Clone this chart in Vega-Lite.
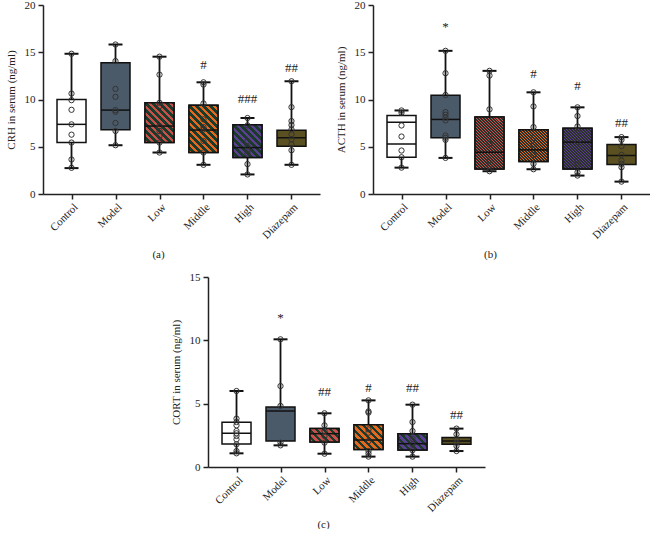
{
"$schema": "https://vega.github.io/schema/vega-lite/v6.json",
"padding": {"left": 5, "top": -1, "right": 0, "bottom": 0},
"config": {
  "view": {"stroke": null},
  "font": "Liberation Serif",
  "axis": {"domainColor": "#222", "domainWidth": 1.5, "tickColor": "#222", "tickWidth": 1.5, "tickSize": 5, "labelFont": "Liberation Serif", "labelFontSize": 11, "labelColor": "#222", "titleFont": "Liberation Serif", "titleFontSize": 11, "titleFontWeight": "normal", "titleColor": "#222", "grid": false}
},
"datasets": {
  "box_a": [
    {"g": "Control", "lo": 2.74, "q1": 5.44, "med": 7.37, "q3": 10.0, "hi": 14.84},
    {"g": "Model", "lo": 5.16, "q1": 6.81, "med": 8.88, "q3": 13.9, "hi": 15.82},
    {"g": "Low", "lo": 4.39, "q1": 5.44, "med": 7.19, "q3": 9.65, "hi": 14.53},
    {"g": "Middle", "lo": 3.09, "q1": 4.39, "med": 6.77, "q3": 9.4, "hi": 11.82},
    {"g": "High", "lo": 2.07, "q1": 3.86, "med": 4.91, "q3": 7.33, "hi": 8.04},
    {"g": "Diazepam", "lo": 3.09, "q1": 5.05, "med": 5.96, "q3": 6.74, "hi": 11.93}
  ],
  "pts_a": [
    {"g": "Control", "v": 14.84}, {"g": "Control", "v": 10.63}, {"g": "Control", "v": 9.93}, {"g": "Control", "v": 8.91}, {"g": "Control", "v": 7.37}, {"g": "Control", "v": 6.28}, {"g": "Control", "v": 5.44}, {"g": "Control", "v": 3.65}, {"g": "Control", "v": 2.77},
    {"g": "Model", "v": 15.82}, {"g": "Model", "v": 14.07}, {"g": "Model", "v": 11.12}, {"g": "Model", "v": 10.28}, {"g": "Model", "v": 8.88}, {"g": "Model", "v": 8.7}, {"g": "Model", "v": 7.51}, {"g": "Model", "v": 6.67}, {"g": "Model", "v": 5.16},
    {"g": "Low", "v": 14.53}, {"g": "Low", "v": 12.63}, {"g": "Low", "v": 9.65}, {"g": "Low", "v": 9.3}, {"g": "Low", "v": 7.19}, {"g": "Low", "v": 6.67}, {"g": "Low", "v": 6.14}, {"g": "Low", "v": 5.44}, {"g": "Low", "v": 4.39},
    {"g": "Middle", "v": 11.82}, {"g": "Middle", "v": 11.58}, {"g": "Middle", "v": 9.58}, {"g": "Middle", "v": 7.9}, {"g": "Middle", "v": 7.09}, {"g": "Middle", "v": 6.84}, {"g": "Middle", "v": 5.61}, {"g": "Middle", "v": 4.39}, {"g": "Middle", "v": 3.09},
    {"g": "High", "v": 8.04}, {"g": "High", "v": 7.26}, {"g": "High", "v": 5.61}, {"g": "High", "v": 5.02}, {"g": "High", "v": 4.56}, {"g": "High", "v": 4.28}, {"g": "High", "v": 3.16}, {"g": "High", "v": 2.07},
    {"g": "Diazepam", "v": 11.93}, {"g": "Diazepam", "v": 9.19}, {"g": "Diazepam", "v": 7.72}, {"g": "Diazepam", "v": 7.3}, {"g": "Diazepam", "v": 6.84}, {"g": "Diazepam", "v": 6.32}, {"g": "Diazepam", "v": 5.79}, {"g": "Diazepam", "v": 5.26}, {"g": "Diazepam", "v": 4.63}, {"g": "Diazepam", "v": 3.09}
  ],
  "ann_a": [
    {"g": "Middle", "v": 13.7, "t": "#"},
    {"g": "High", "v": 10.07, "t": "###"},
    {"g": "Diazepam", "v": 13.3, "t": "##"}
  ],
  "box_b": [
    {"g": "Control", "lo": 2.79, "q1": 3.89, "med": 5.3, "q3": 8.31, "hi": 8.84},
    {"g": "Model", "lo": 3.82, "q1": 5.95, "med": 7.89, "q3": 10.44, "hi": 15.15},
    {"g": "Low", "lo": 2.41, "q1": 2.65, "med": 4.42, "q3": 8.14, "hi": 13.03},
    {"g": "Middle", "lo": 2.62, "q1": 3.43, "med": 4.67, "q3": 6.8, "hi": 10.76},
    {"g": "High", "lo": 1.95, "q1": 2.65, "med": 5.49, "q3": 6.97, "hi": 9.17},
    {"g": "Diazepam", "lo": 1.31, "q1": 3.12, "med": 4.07, "q3": 5.24, "hi": 6.02}
  ],
  "ext_b": [{"g": "Control", "v": 7.6}],
  "pts_b": [
    {"g": "Control", "v": 8.84}, {"g": "Control", "v": 8.6}, {"g": "Control", "v": 7.25}, {"g": "Control", "v": 6.08}, {"g": "Control", "v": 4.6}, {"g": "Control", "v": 3.89}, {"g": "Control", "v": 2.79},
    {"g": "Model", "v": 15.15}, {"g": "Model", "v": 12.78}, {"g": "Model", "v": 10.48}, {"g": "Model", "v": 8.67}, {"g": "Model", "v": 8.39}, {"g": "Model", "v": 8.07}, {"g": "Model", "v": 7.79}, {"g": "Model", "v": 6.19}, {"g": "Model", "v": 5.95}, {"g": "Model", "v": 5.73}, {"g": "Model", "v": 3.82},
    {"g": "Low", "v": 13.03}, {"g": "Low", "v": 12.53}, {"g": "Low", "v": 8.96}, {"g": "Low", "v": 6.16}, {"g": "Low", "v": 5.31}, {"g": "Low", "v": 3.54}, {"g": "Low", "v": 2.94}, {"g": "Low", "v": 2.41},
    {"g": "Middle", "v": 10.76}, {"g": "Middle", "v": 9.27}, {"g": "Middle", "v": 7.08}, {"g": "Middle", "v": 5.91}, {"g": "Middle", "v": 5.2}, {"g": "Middle", "v": 4.14}, {"g": "Middle", "v": 3.19}, {"g": "Middle", "v": 2.62},
    {"g": "High", "v": 9.17}, {"g": "High", "v": 8.25}, {"g": "High", "v": 7.15}, {"g": "High", "v": 6.48}, {"g": "High", "v": 5.49}, {"g": "High", "v": 3.54}, {"g": "High", "v": 3.19}, {"g": "High", "v": 2.3}, {"g": "High", "v": 1.95},
    {"g": "Diazepam", "v": 6.02}, {"g": "Diazepam", "v": 5.73}, {"g": "Diazepam", "v": 5.06}, {"g": "Diazepam", "v": 4.14}, {"g": "Diazepam", "v": 3.54}, {"g": "Diazepam", "v": 3.19}, {"g": "Diazepam", "v": 2.83}, {"g": "Diazepam", "v": 1.31}
  ],
  "ann_b": [
    {"g": "Model", "v": 17.7, "t": "*"},
    {"g": "Middle", "v": 12.67, "t": "#"},
    {"g": "High", "v": 11.47, "t": "#"},
    {"g": "Diazepam", "v": 7.54, "t": "##"}
  ],
  "box_c": [
    {"g": "Control", "lo": 1.08, "q1": 1.82, "med": 2.66, "q3": 3.53, "hi": 6.0},
    {"g": "Model", "lo": 1.71, "q1": 2.05, "med": 4.42, "q3": 4.74, "hi": 10.08},
    {"g": "Low", "lo": 1.05, "q1": 1.97, "med": 2.63, "q3": 3.03, "hi": 4.24},
    {"g": "Middle", "lo": 0.82, "q1": 1.39, "med": 2.13, "q3": 3.34, "hi": 5.26},
    {"g": "High", "lo": 0.82, "q1": 1.34, "med": 1.84, "q3": 2.63, "hi": 4.92},
    {"g": "Diazepam", "lo": 1.26, "q1": 1.79, "med": 2.05, "q3": 2.32, "hi": 3.03}
  ],
  "pts_c": [
    {"g": "Control", "v": 6.0}, {"g": "Control", "v": 3.82}, {"g": "Control", "v": 3.55}, {"g": "Control", "v": 3.29}, {"g": "Control", "v": 2.84}, {"g": "Control", "v": 2.66}, {"g": "Control", "v": 2.45}, {"g": "Control", "v": 2.18}, {"g": "Control", "v": 1.79}, {"g": "Control", "v": 1.26}, {"g": "Control", "v": 1.08},
    {"g": "Model", "v": 10.08}, {"g": "Model", "v": 6.39}, {"g": "Model", "v": 4.82}, {"g": "Model", "v": 1.92}, {"g": "Model", "v": 1.71},
    {"g": "Low", "v": 4.24}, {"g": "Low", "v": 3.29}, {"g": "Low", "v": 2.84}, {"g": "Low", "v": 2.45}, {"g": "Low", "v": 1.92}, {"g": "Low", "v": 1.05},
    {"g": "Middle", "v": 5.26}, {"g": "Middle", "v": 4.39}, {"g": "Middle", "v": 4.29}, {"g": "Middle", "v": 2.97}, {"g": "Middle", "v": 2.71}, {"g": "Middle", "v": 2.05}, {"g": "Middle", "v": 1.26}, {"g": "Middle", "v": 1.05}, {"g": "Middle", "v": 0.82},
    {"g": "High", "v": 4.92}, {"g": "High", "v": 3.55}, {"g": "High", "v": 2.84}, {"g": "High", "v": 2.24}, {"g": "High", "v": 1.79}, {"g": "High", "v": 1.32}, {"g": "High", "v": 0.82},
    {"g": "Diazepam", "v": 3.03}, {"g": "Diazepam", "v": 2.58}, {"g": "Diazepam", "v": 2.18}, {"g": "Diazepam", "v": 1.92}, {"g": "Diazepam", "v": 1.66}, {"g": "Diazepam", "v": 1.26}
  ],
  "ann_c": [
    {"g": "Model", "v": 11.79, "t": "*"},
    {"g": "Low", "v": 5.92, "t": "##"},
    {"g": "Middle", "v": 6.26, "t": "#"},
    {"g": "High", "v": 6.26, "t": "##"},
    {"g": "Diazepam", "v": 4.13, "t": "##"}
  ]
},
"center": true,
"spacing": 12,
"vconcat": [
{
"spacing": 15,
"hconcat": [
{
"width": 277, "height": 189,
"layer": [
  {"data": {"name": "box_a"}, "mark": {"type": "rule", "stroke": "#111", "strokeWidth": 1.8},
   "encoding": {"x": {"field": "g", "type": "nominal", "scale": {"type": "point", "padding": 0.648, "domain": ["Control", "Model", "Low", "Middle", "High", "Diazepam"]}, "axis": {"title": "(a)", "labelAngle": -45, "titleX": 115, "titleY": 60, "titleAlign": "center", "titleBaseline": "middle"}},
     "y": {"field": "lo", "type": "quantitative", "scale": {"domain": [0, 20], "nice": false}, "axis": {"title": "CRH in serum (ng/ml)", "values": [0, 5, 10, 15, 20], "titlePadding": 8, "labelPadding": 3}}, "y2": {"field": "hi"}}},
  {"data": {"name": "box_a"}, "mark": {"type": "bar", "width": 29, "stroke": "#111", "strokeWidth": 1.5},
   "encoding": {"x": {"field": "g", "type": "nominal"}, "y": {"field": "q1", "type": "quantitative"}, "y2": {"field": "q3"},
     "fill": {"field": "g", "type": "nominal", "scale": {"domain": ["Control", "Model", "Low", "Middle", "High", "Diazepam"], "range": ["#ffffff", "#4b5a69", "#c8504a", "#e2691d", "#5a3f92", "#5a5022"]}, "legend": null}}},
  {"data": {"name": "box_a"}, "transform": [{"filter": "datum.g === 'Low'"}],
   "mark": {"type": "bar", "width": 29, "stroke": "#111", "strokeWidth": 1.5, "fill": {"gradient": "linear", "x1": 0, "y1": 1, "x2": 0.998, "y2": -0.3765, "stops": [{"offset":0,"color":"#c8504a"},{"offset":0.0417,"color":"#c8504a"},{"offset":0.0417,"color":"#1c3a2a"},{"offset":0.0833,"color":"#1c3a2a"},{"offset":0.0833,"color":"#c8504a"},{"offset":0.125,"color":"#c8504a"},{"offset":0.125,"color":"#1c3a2a"},{"offset":0.1667,"color":"#1c3a2a"},{"offset":0.1667,"color":"#c8504a"},{"offset":0.2083,"color":"#c8504a"},{"offset":0.2083,"color":"#1c3a2a"},{"offset":0.25,"color":"#1c3a2a"},{"offset":0.25,"color":"#c8504a"},{"offset":0.2917,"color":"#c8504a"},{"offset":0.2917,"color":"#1c3a2a"},{"offset":0.3333,"color":"#1c3a2a"},{"offset":0.3333,"color":"#c8504a"},{"offset":0.375,"color":"#c8504a"},{"offset":0.375,"color":"#1c3a2a"},{"offset":0.4167,"color":"#1c3a2a"},{"offset":0.4167,"color":"#c8504a"},{"offset":0.4583,"color":"#c8504a"},{"offset":0.4583,"color":"#1c3a2a"},{"offset":0.5,"color":"#1c3a2a"},{"offset":0.5,"color":"#c8504a"},{"offset":0.5417,"color":"#c8504a"},{"offset":0.5417,"color":"#1c3a2a"},{"offset":0.5833,"color":"#1c3a2a"},{"offset":0.5833,"color":"#c8504a"},{"offset":0.625,"color":"#c8504a"},{"offset":0.625,"color":"#1c3a2a"},{"offset":0.6667,"color":"#1c3a2a"},{"offset":0.6667,"color":"#c8504a"},{"offset":0.7083,"color":"#c8504a"},{"offset":0.7083,"color":"#1c3a2a"},{"offset":0.75,"color":"#1c3a2a"},{"offset":0.75,"color":"#c8504a"},{"offset":0.7917,"color":"#c8504a"},{"offset":0.7917,"color":"#1c3a2a"},{"offset":0.8333,"color":"#1c3a2a"},{"offset":0.8333,"color":"#c8504a"},{"offset":0.875,"color":"#c8504a"},{"offset":0.875,"color":"#1c3a2a"},{"offset":0.9167,"color":"#1c3a2a"},{"offset":0.9167,"color":"#c8504a"},{"offset":0.9583,"color":"#c8504a"},{"offset":0.9583,"color":"#1c3a2a"},{"offset":1,"color":"#1c3a2a"}]}},
   "encoding": {"x": {"field": "g", "type": "nominal"}, "y": {"field": "q1", "type": "quantitative"}, "y2": {"field": "q3"}}},
  {"data": {"name": "box_a"}, "transform": [{"filter": "datum.g === 'Middle'"}],
   "mark": {"type": "bar", "width": 29, "stroke": "#111", "strokeWidth": 1.5, "fill": {"gradient": "linear", "x1": 0, "y1": 1, "x2": 0.784, "y2": -0.287, "stops": [{"offset":0,"color":"#e2691d"},{"offset":0.0417,"color":"#e2691d"},{"offset":0.0417,"color":"#1c3a2a"},{"offset":0.0833,"color":"#1c3a2a"},{"offset":0.0833,"color":"#e2691d"},{"offset":0.125,"color":"#e2691d"},{"offset":0.125,"color":"#1c3a2a"},{"offset":0.1667,"color":"#1c3a2a"},{"offset":0.1667,"color":"#e2691d"},{"offset":0.2083,"color":"#e2691d"},{"offset":0.2083,"color":"#1c3a2a"},{"offset":0.25,"color":"#1c3a2a"},{"offset":0.25,"color":"#e2691d"},{"offset":0.2917,"color":"#e2691d"},{"offset":0.2917,"color":"#1c3a2a"},{"offset":0.3333,"color":"#1c3a2a"},{"offset":0.3333,"color":"#e2691d"},{"offset":0.375,"color":"#e2691d"},{"offset":0.375,"color":"#1c3a2a"},{"offset":0.4167,"color":"#1c3a2a"},{"offset":0.4167,"color":"#e2691d"},{"offset":0.4583,"color":"#e2691d"},{"offset":0.4583,"color":"#1c3a2a"},{"offset":0.5,"color":"#1c3a2a"},{"offset":0.5,"color":"#e2691d"},{"offset":0.5417,"color":"#e2691d"},{"offset":0.5417,"color":"#1c3a2a"},{"offset":0.5833,"color":"#1c3a2a"},{"offset":0.5833,"color":"#e2691d"},{"offset":0.625,"color":"#e2691d"},{"offset":0.625,"color":"#1c3a2a"},{"offset":0.6667,"color":"#1c3a2a"},{"offset":0.6667,"color":"#e2691d"},{"offset":0.7083,"color":"#e2691d"},{"offset":0.7083,"color":"#1c3a2a"},{"offset":0.75,"color":"#1c3a2a"},{"offset":0.75,"color":"#e2691d"},{"offset":0.7917,"color":"#e2691d"},{"offset":0.7917,"color":"#1c3a2a"},{"offset":0.8333,"color":"#1c3a2a"},{"offset":0.8333,"color":"#e2691d"},{"offset":0.875,"color":"#e2691d"},{"offset":0.875,"color":"#1c3a2a"},{"offset":0.9167,"color":"#1c3a2a"},{"offset":0.9167,"color":"#e2691d"},{"offset":0.9583,"color":"#e2691d"},{"offset":0.9583,"color":"#1c3a2a"},{"offset":1,"color":"#1c3a2a"}]}},
   "encoding": {"x": {"field": "g", "type": "nominal"}, "y": {"field": "q1", "type": "quantitative"}, "y2": {"field": "q3"}}},
  {"data": {"name": "box_a"}, "transform": [{"filter": "datum.g === 'High'"}],
   "mark": {"type": "bar", "width": 29, "stroke": "#111", "strokeWidth": 1.5, "fill": {"gradient": "linear", "x1": 0, "y1": 1, "x2": 1.262, "y2": -0.436, "stops": [{"offset":0,"color":"#5a3f92"},{"offset":0.0417,"color":"#5a3f92"},{"offset":0.0417,"color":"#1c3a2a"},{"offset":0.0833,"color":"#1c3a2a"},{"offset":0.0833,"color":"#5a3f92"},{"offset":0.125,"color":"#5a3f92"},{"offset":0.125,"color":"#1c3a2a"},{"offset":0.1667,"color":"#1c3a2a"},{"offset":0.1667,"color":"#5a3f92"},{"offset":0.2083,"color":"#5a3f92"},{"offset":0.2083,"color":"#1c3a2a"},{"offset":0.25,"color":"#1c3a2a"},{"offset":0.25,"color":"#5a3f92"},{"offset":0.2917,"color":"#5a3f92"},{"offset":0.2917,"color":"#1c3a2a"},{"offset":0.3333,"color":"#1c3a2a"},{"offset":0.3333,"color":"#5a3f92"},{"offset":0.375,"color":"#5a3f92"},{"offset":0.375,"color":"#1c3a2a"},{"offset":0.4167,"color":"#1c3a2a"},{"offset":0.4167,"color":"#5a3f92"},{"offset":0.4583,"color":"#5a3f92"},{"offset":0.4583,"color":"#1c3a2a"},{"offset":0.5,"color":"#1c3a2a"},{"offset":0.5,"color":"#5a3f92"},{"offset":0.5417,"color":"#5a3f92"},{"offset":0.5417,"color":"#1c3a2a"},{"offset":0.5833,"color":"#1c3a2a"},{"offset":0.5833,"color":"#5a3f92"},{"offset":0.625,"color":"#5a3f92"},{"offset":0.625,"color":"#1c3a2a"},{"offset":0.6667,"color":"#1c3a2a"},{"offset":0.6667,"color":"#5a3f92"},{"offset":0.7083,"color":"#5a3f92"},{"offset":0.7083,"color":"#1c3a2a"},{"offset":0.75,"color":"#1c3a2a"},{"offset":0.75,"color":"#5a3f92"},{"offset":0.7917,"color":"#5a3f92"},{"offset":0.7917,"color":"#1c3a2a"},{"offset":0.8333,"color":"#1c3a2a"},{"offset":0.8333,"color":"#5a3f92"},{"offset":0.875,"color":"#5a3f92"},{"offset":0.875,"color":"#1c3a2a"},{"offset":0.9167,"color":"#1c3a2a"},{"offset":0.9167,"color":"#5a3f92"},{"offset":0.9583,"color":"#5a3f92"},{"offset":0.9583,"color":"#1c3a2a"},{"offset":1,"color":"#1c3a2a"}]}},
   "encoding": {"x": {"field": "g", "type": "nominal"}, "y": {"field": "q1", "type": "quantitative"}, "y2": {"field": "q3"}}},
  {"data": {"name": "box_a"}, "mark": {"type": "tick", "size": 29, "thickness": 1.5, "color": "#111", "opacity": 1},
   "encoding": {"x": {"field": "g", "type": "nominal"}, "y": {"field": "med", "type": "quantitative"}}},
  {"data": {"name": "box_a"}, "mark": {"type": "tick", "size": 14, "thickness": 2, "color": "#111", "opacity": 1},
   "encoding": {"x": {"field": "g", "type": "nominal"}, "y": {"field": "lo", "type": "quantitative"}}},
  {"data": {"name": "box_a"}, "mark": {"type": "tick", "size": 14, "thickness": 2, "color": "#111", "opacity": 1},
   "encoding": {"x": {"field": "g", "type": "nominal"}, "y": {"field": "hi", "type": "quantitative"}}},
  {"data": {"name": "pts_a"}, "mark": {"type": "point", "filled": false, "stroke": "#333", "strokeWidth": 1, "size": 28, "opacity": 1},
   "encoding": {"x": {"field": "g", "type": "nominal"}, "y": {"field": "v", "type": "quantitative"}}},
  {"data": {"name": "ann_a"}, "mark": {"type": "text", "font": "Liberation Serif", "fontSize": 13, "fill": "#222", "baseline": "middle"},
   "encoding": {"x": {"field": "g", "type": "nominal"}, "y": {"field": "v", "type": "quantitative"}, "text": {"field": "t"}}}
]
},
{
"width": 277, "height": 189,
"layer": [
  {"data": {"name": "box_b"}, "mark": {"type": "rule", "stroke": "#111", "strokeWidth": 1.8},
   "encoding": {"x": {"field": "g", "type": "nominal", "scale": {"type": "point", "padding": 0.648, "domain": ["Control", "Model", "Low", "Middle", "High", "Diazepam"]}, "axis": {"title": "(b)", "labelAngle": -45, "titleX": 117, "titleY": 60, "titleAlign": "center", "titleBaseline": "middle"}},
     "y": {"field": "lo", "type": "quantitative", "scale": {"domain": [0, 20], "nice": false}, "axis": {"title": "ACTH in serum (ng/ml)", "values": [0, 5, 10, 15, 20], "titlePadding": 8, "labelPadding": 3}}, "y2": {"field": "hi"}}},
  {"data": {"name": "box_b"}, "mark": {"type": "bar", "width": 29, "stroke": "#111", "strokeWidth": 1.5},
   "encoding": {"x": {"field": "g", "type": "nominal"}, "y": {"field": "q1", "type": "quantitative"}, "y2": {"field": "q3"},
     "fill": {"field": "g", "type": "nominal", "scale": {"domain": ["Control", "Model", "Low", "Middle", "High", "Diazepam"], "range": ["#ffffff", "#4b5a69", "#a9433e", "#c8611f", "#44386e", "#5a5022"]}, "legend": null}}},
  {"data": {"name": "box_b"}, "transform": [{"filter": "datum.g === 'Low'"}],
   "mark": {"type": "bar", "width": 29, "stroke": "#111", "strokeWidth": 1.5, "fill": {"gradient": "linear", "x1": 0, "y1": 1, "x2": 0.689, "y2": -0.233, "stops": [{"offset":0,"color":"#c8504a"},{"offset":0.0179,"color":"#c8504a"},{"offset":0.0179,"color":"#2a2f2a"},{"offset":0.0357,"color":"#2a2f2a"},{"offset":0.0357,"color":"#c8504a"},{"offset":0.0536,"color":"#c8504a"},{"offset":0.0536,"color":"#2a2f2a"},{"offset":0.0714,"color":"#2a2f2a"},{"offset":0.0714,"color":"#c8504a"},{"offset":0.0893,"color":"#c8504a"},{"offset":0.0893,"color":"#2a2f2a"},{"offset":0.1071,"color":"#2a2f2a"},{"offset":0.1071,"color":"#c8504a"},{"offset":0.125,"color":"#c8504a"},{"offset":0.125,"color":"#2a2f2a"},{"offset":0.1429,"color":"#2a2f2a"},{"offset":0.1429,"color":"#c8504a"},{"offset":0.1607,"color":"#c8504a"},{"offset":0.1607,"color":"#2a2f2a"},{"offset":0.1786,"color":"#2a2f2a"},{"offset":0.1786,"color":"#c8504a"},{"offset":0.1964,"color":"#c8504a"},{"offset":0.1964,"color":"#2a2f2a"},{"offset":0.2143,"color":"#2a2f2a"},{"offset":0.2143,"color":"#c8504a"},{"offset":0.2321,"color":"#c8504a"},{"offset":0.2321,"color":"#2a2f2a"},{"offset":0.25,"color":"#2a2f2a"},{"offset":0.25,"color":"#c8504a"},{"offset":0.2679,"color":"#c8504a"},{"offset":0.2679,"color":"#2a2f2a"},{"offset":0.2857,"color":"#2a2f2a"},{"offset":0.2857,"color":"#c8504a"},{"offset":0.3036,"color":"#c8504a"},{"offset":0.3036,"color":"#2a2f2a"},{"offset":0.3214,"color":"#2a2f2a"},{"offset":0.3214,"color":"#c8504a"},{"offset":0.3393,"color":"#c8504a"},{"offset":0.3393,"color":"#2a2f2a"},{"offset":0.3571,"color":"#2a2f2a"},{"offset":0.3571,"color":"#c8504a"},{"offset":0.375,"color":"#c8504a"},{"offset":0.375,"color":"#2a2f2a"},{"offset":0.3929,"color":"#2a2f2a"},{"offset":0.3929,"color":"#c8504a"},{"offset":0.4107,"color":"#c8504a"},{"offset":0.4107,"color":"#2a2f2a"},{"offset":0.4286,"color":"#2a2f2a"},{"offset":0.4286,"color":"#c8504a"},{"offset":0.4464,"color":"#c8504a"},{"offset":0.4464,"color":"#2a2f2a"},{"offset":0.4643,"color":"#2a2f2a"},{"offset":0.4643,"color":"#c8504a"},{"offset":0.4821,"color":"#c8504a"},{"offset":0.4821,"color":"#2a2f2a"},{"offset":0.5,"color":"#2a2f2a"},{"offset":0.5,"color":"#c8504a"},{"offset":0.5179,"color":"#c8504a"},{"offset":0.5179,"color":"#2a2f2a"},{"offset":0.5357,"color":"#2a2f2a"},{"offset":0.5357,"color":"#c8504a"},{"offset":0.5536,"color":"#c8504a"},{"offset":0.5536,"color":"#2a2f2a"},{"offset":0.5714,"color":"#2a2f2a"},{"offset":0.5714,"color":"#c8504a"},{"offset":0.5893,"color":"#c8504a"},{"offset":0.5893,"color":"#2a2f2a"},{"offset":0.6071,"color":"#2a2f2a"},{"offset":0.6071,"color":"#c8504a"},{"offset":0.625,"color":"#c8504a"},{"offset":0.625,"color":"#2a2f2a"},{"offset":0.6429,"color":"#2a2f2a"},{"offset":0.6429,"color":"#c8504a"},{"offset":0.6607,"color":"#c8504a"},{"offset":0.6607,"color":"#2a2f2a"},{"offset":0.6786,"color":"#2a2f2a"},{"offset":0.6786,"color":"#c8504a"},{"offset":0.6964,"color":"#c8504a"},{"offset":0.6964,"color":"#2a2f2a"},{"offset":0.7143,"color":"#2a2f2a"},{"offset":0.7143,"color":"#c8504a"},{"offset":0.7321,"color":"#c8504a"},{"offset":0.7321,"color":"#2a2f2a"},{"offset":0.75,"color":"#2a2f2a"},{"offset":0.75,"color":"#c8504a"},{"offset":0.7679,"color":"#c8504a"},{"offset":0.7679,"color":"#2a2f2a"},{"offset":0.7857,"color":"#2a2f2a"},{"offset":0.7857,"color":"#c8504a"},{"offset":0.8036,"color":"#c8504a"},{"offset":0.8036,"color":"#2a2f2a"},{"offset":0.8214,"color":"#2a2f2a"},{"offset":0.8214,"color":"#c8504a"},{"offset":0.8393,"color":"#c8504a"},{"offset":0.8393,"color":"#2a2f2a"},{"offset":0.8571,"color":"#2a2f2a"},{"offset":0.8571,"color":"#c8504a"},{"offset":0.875,"color":"#c8504a"},{"offset":0.875,"color":"#2a2f2a"},{"offset":0.8929,"color":"#2a2f2a"},{"offset":0.8929,"color":"#c8504a"},{"offset":0.9107,"color":"#c8504a"},{"offset":0.9107,"color":"#2a2f2a"},{"offset":0.9286,"color":"#2a2f2a"},{"offset":0.9286,"color":"#c8504a"},{"offset":0.9464,"color":"#c8504a"},{"offset":0.9464,"color":"#2a2f2a"},{"offset":0.9643,"color":"#2a2f2a"},{"offset":0.9643,"color":"#c8504a"},{"offset":0.9821,"color":"#c8504a"},{"offset":0.9821,"color":"#2a2f2a"},{"offset":1,"color":"#2a2f2a"}]}},
   "encoding": {"x": {"field": "g", "type": "nominal"}, "y": {"field": "q1", "type": "quantitative"}, "y2": {"field": "q3"}}},
  {"data": {"name": "box_b"}, "transform": [{"filter": "datum.g === 'Middle'"}],
   "mark": {"type": "bar", "width": 29, "stroke": "#111", "strokeWidth": 1.5, "fill": {"gradient": "linear", "x1": 0, "y1": 1, "x2": 1.315, "y2": -0.442, "stops": [{"offset":0,"color":"#e2691d"},{"offset":0.0179,"color":"#e2691d"},{"offset":0.0179,"color":"#2a2f2a"},{"offset":0.0357,"color":"#2a2f2a"},{"offset":0.0357,"color":"#e2691d"},{"offset":0.0536,"color":"#e2691d"},{"offset":0.0536,"color":"#2a2f2a"},{"offset":0.0714,"color":"#2a2f2a"},{"offset":0.0714,"color":"#e2691d"},{"offset":0.0893,"color":"#e2691d"},{"offset":0.0893,"color":"#2a2f2a"},{"offset":0.1071,"color":"#2a2f2a"},{"offset":0.1071,"color":"#e2691d"},{"offset":0.125,"color":"#e2691d"},{"offset":0.125,"color":"#2a2f2a"},{"offset":0.1429,"color":"#2a2f2a"},{"offset":0.1429,"color":"#e2691d"},{"offset":0.1607,"color":"#e2691d"},{"offset":0.1607,"color":"#2a2f2a"},{"offset":0.1786,"color":"#2a2f2a"},{"offset":0.1786,"color":"#e2691d"},{"offset":0.1964,"color":"#e2691d"},{"offset":0.1964,"color":"#2a2f2a"},{"offset":0.2143,"color":"#2a2f2a"},{"offset":0.2143,"color":"#e2691d"},{"offset":0.2321,"color":"#e2691d"},{"offset":0.2321,"color":"#2a2f2a"},{"offset":0.25,"color":"#2a2f2a"},{"offset":0.25,"color":"#e2691d"},{"offset":0.2679,"color":"#e2691d"},{"offset":0.2679,"color":"#2a2f2a"},{"offset":0.2857,"color":"#2a2f2a"},{"offset":0.2857,"color":"#e2691d"},{"offset":0.3036,"color":"#e2691d"},{"offset":0.3036,"color":"#2a2f2a"},{"offset":0.3214,"color":"#2a2f2a"},{"offset":0.3214,"color":"#e2691d"},{"offset":0.3393,"color":"#e2691d"},{"offset":0.3393,"color":"#2a2f2a"},{"offset":0.3571,"color":"#2a2f2a"},{"offset":0.3571,"color":"#e2691d"},{"offset":0.375,"color":"#e2691d"},{"offset":0.375,"color":"#2a2f2a"},{"offset":0.3929,"color":"#2a2f2a"},{"offset":0.3929,"color":"#e2691d"},{"offset":0.4107,"color":"#e2691d"},{"offset":0.4107,"color":"#2a2f2a"},{"offset":0.4286,"color":"#2a2f2a"},{"offset":0.4286,"color":"#e2691d"},{"offset":0.4464,"color":"#e2691d"},{"offset":0.4464,"color":"#2a2f2a"},{"offset":0.4643,"color":"#2a2f2a"},{"offset":0.4643,"color":"#e2691d"},{"offset":0.4821,"color":"#e2691d"},{"offset":0.4821,"color":"#2a2f2a"},{"offset":0.5,"color":"#2a2f2a"},{"offset":0.5,"color":"#e2691d"},{"offset":0.5179,"color":"#e2691d"},{"offset":0.5179,"color":"#2a2f2a"},{"offset":0.5357,"color":"#2a2f2a"},{"offset":0.5357,"color":"#e2691d"},{"offset":0.5536,"color":"#e2691d"},{"offset":0.5536,"color":"#2a2f2a"},{"offset":0.5714,"color":"#2a2f2a"},{"offset":0.5714,"color":"#e2691d"},{"offset":0.5893,"color":"#e2691d"},{"offset":0.5893,"color":"#2a2f2a"},{"offset":0.6071,"color":"#2a2f2a"},{"offset":0.6071,"color":"#e2691d"},{"offset":0.625,"color":"#e2691d"},{"offset":0.625,"color":"#2a2f2a"},{"offset":0.6429,"color":"#2a2f2a"},{"offset":0.6429,"color":"#e2691d"},{"offset":0.6607,"color":"#e2691d"},{"offset":0.6607,"color":"#2a2f2a"},{"offset":0.6786,"color":"#2a2f2a"},{"offset":0.6786,"color":"#e2691d"},{"offset":0.6964,"color":"#e2691d"},{"offset":0.6964,"color":"#2a2f2a"},{"offset":0.7143,"color":"#2a2f2a"},{"offset":0.7143,"color":"#e2691d"},{"offset":0.7321,"color":"#e2691d"},{"offset":0.7321,"color":"#2a2f2a"},{"offset":0.75,"color":"#2a2f2a"},{"offset":0.75,"color":"#e2691d"},{"offset":0.7679,"color":"#e2691d"},{"offset":0.7679,"color":"#2a2f2a"},{"offset":0.7857,"color":"#2a2f2a"},{"offset":0.7857,"color":"#e2691d"},{"offset":0.8036,"color":"#e2691d"},{"offset":0.8036,"color":"#2a2f2a"},{"offset":0.8214,"color":"#2a2f2a"},{"offset":0.8214,"color":"#e2691d"},{"offset":0.8393,"color":"#e2691d"},{"offset":0.8393,"color":"#2a2f2a"},{"offset":0.8571,"color":"#2a2f2a"},{"offset":0.8571,"color":"#e2691d"},{"offset":0.875,"color":"#e2691d"},{"offset":0.875,"color":"#2a2f2a"},{"offset":0.8929,"color":"#2a2f2a"},{"offset":0.8929,"color":"#e2691d"},{"offset":0.9107,"color":"#e2691d"},{"offset":0.9107,"color":"#2a2f2a"},{"offset":0.9286,"color":"#2a2f2a"},{"offset":0.9286,"color":"#e2691d"},{"offset":0.9464,"color":"#e2691d"},{"offset":0.9464,"color":"#2a2f2a"},{"offset":0.9643,"color":"#2a2f2a"},{"offset":0.9643,"color":"#e2691d"},{"offset":0.9821,"color":"#e2691d"},{"offset":0.9821,"color":"#2a2f2a"},{"offset":1,"color":"#2a2f2a"}]}},
   "encoding": {"x": {"field": "g", "type": "nominal"}, "y": {"field": "q1", "type": "quantitative"}, "y2": {"field": "q3"}}},
  {"data": {"name": "box_b"}, "transform": [{"filter": "datum.g === 'High'"}],
   "mark": {"type": "bar", "width": 29, "stroke": "#111", "strokeWidth": 1.5, "fill": {"gradient": "linear", "x1": 0, "y1": 1, "x2": 0.972, "y2": -0.368, "stops": [{"offset":0,"color":"#5a3f92"},{"offset":0.0179,"color":"#5a3f92"},{"offset":0.0179,"color":"#2a2f2a"},{"offset":0.0357,"color":"#2a2f2a"},{"offset":0.0357,"color":"#5a3f92"},{"offset":0.0536,"color":"#5a3f92"},{"offset":0.0536,"color":"#2a2f2a"},{"offset":0.0714,"color":"#2a2f2a"},{"offset":0.0714,"color":"#5a3f92"},{"offset":0.0893,"color":"#5a3f92"},{"offset":0.0893,"color":"#2a2f2a"},{"offset":0.1071,"color":"#2a2f2a"},{"offset":0.1071,"color":"#5a3f92"},{"offset":0.125,"color":"#5a3f92"},{"offset":0.125,"color":"#2a2f2a"},{"offset":0.1429,"color":"#2a2f2a"},{"offset":0.1429,"color":"#5a3f92"},{"offset":0.1607,"color":"#5a3f92"},{"offset":0.1607,"color":"#2a2f2a"},{"offset":0.1786,"color":"#2a2f2a"},{"offset":0.1786,"color":"#5a3f92"},{"offset":0.1964,"color":"#5a3f92"},{"offset":0.1964,"color":"#2a2f2a"},{"offset":0.2143,"color":"#2a2f2a"},{"offset":0.2143,"color":"#5a3f92"},{"offset":0.2321,"color":"#5a3f92"},{"offset":0.2321,"color":"#2a2f2a"},{"offset":0.25,"color":"#2a2f2a"},{"offset":0.25,"color":"#5a3f92"},{"offset":0.2679,"color":"#5a3f92"},{"offset":0.2679,"color":"#2a2f2a"},{"offset":0.2857,"color":"#2a2f2a"},{"offset":0.2857,"color":"#5a3f92"},{"offset":0.3036,"color":"#5a3f92"},{"offset":0.3036,"color":"#2a2f2a"},{"offset":0.3214,"color":"#2a2f2a"},{"offset":0.3214,"color":"#5a3f92"},{"offset":0.3393,"color":"#5a3f92"},{"offset":0.3393,"color":"#2a2f2a"},{"offset":0.3571,"color":"#2a2f2a"},{"offset":0.3571,"color":"#5a3f92"},{"offset":0.375,"color":"#5a3f92"},{"offset":0.375,"color":"#2a2f2a"},{"offset":0.3929,"color":"#2a2f2a"},{"offset":0.3929,"color":"#5a3f92"},{"offset":0.4107,"color":"#5a3f92"},{"offset":0.4107,"color":"#2a2f2a"},{"offset":0.4286,"color":"#2a2f2a"},{"offset":0.4286,"color":"#5a3f92"},{"offset":0.4464,"color":"#5a3f92"},{"offset":0.4464,"color":"#2a2f2a"},{"offset":0.4643,"color":"#2a2f2a"},{"offset":0.4643,"color":"#5a3f92"},{"offset":0.4821,"color":"#5a3f92"},{"offset":0.4821,"color":"#2a2f2a"},{"offset":0.5,"color":"#2a2f2a"},{"offset":0.5,"color":"#5a3f92"},{"offset":0.5179,"color":"#5a3f92"},{"offset":0.5179,"color":"#2a2f2a"},{"offset":0.5357,"color":"#2a2f2a"},{"offset":0.5357,"color":"#5a3f92"},{"offset":0.5536,"color":"#5a3f92"},{"offset":0.5536,"color":"#2a2f2a"},{"offset":0.5714,"color":"#2a2f2a"},{"offset":0.5714,"color":"#5a3f92"},{"offset":0.5893,"color":"#5a3f92"},{"offset":0.5893,"color":"#2a2f2a"},{"offset":0.6071,"color":"#2a2f2a"},{"offset":0.6071,"color":"#5a3f92"},{"offset":0.625,"color":"#5a3f92"},{"offset":0.625,"color":"#2a2f2a"},{"offset":0.6429,"color":"#2a2f2a"},{"offset":0.6429,"color":"#5a3f92"},{"offset":0.6607,"color":"#5a3f92"},{"offset":0.6607,"color":"#2a2f2a"},{"offset":0.6786,"color":"#2a2f2a"},{"offset":0.6786,"color":"#5a3f92"},{"offset":0.6964,"color":"#5a3f92"},{"offset":0.6964,"color":"#2a2f2a"},{"offset":0.7143,"color":"#2a2f2a"},{"offset":0.7143,"color":"#5a3f92"},{"offset":0.7321,"color":"#5a3f92"},{"offset":0.7321,"color":"#2a2f2a"},{"offset":0.75,"color":"#2a2f2a"},{"offset":0.75,"color":"#5a3f92"},{"offset":0.7679,"color":"#5a3f92"},{"offset":0.7679,"color":"#2a2f2a"},{"offset":0.7857,"color":"#2a2f2a"},{"offset":0.7857,"color":"#5a3f92"},{"offset":0.8036,"color":"#5a3f92"},{"offset":0.8036,"color":"#2a2f2a"},{"offset":0.8214,"color":"#2a2f2a"},{"offset":0.8214,"color":"#5a3f92"},{"offset":0.8393,"color":"#5a3f92"},{"offset":0.8393,"color":"#2a2f2a"},{"offset":0.8571,"color":"#2a2f2a"},{"offset":0.8571,"color":"#5a3f92"},{"offset":0.875,"color":"#5a3f92"},{"offset":0.875,"color":"#2a2f2a"},{"offset":0.8929,"color":"#2a2f2a"},{"offset":0.8929,"color":"#5a3f92"},{"offset":0.9107,"color":"#5a3f92"},{"offset":0.9107,"color":"#2a2f2a"},{"offset":0.9286,"color":"#2a2f2a"},{"offset":0.9286,"color":"#5a3f92"},{"offset":0.9464,"color":"#5a3f92"},{"offset":0.9464,"color":"#2a2f2a"},{"offset":0.9643,"color":"#2a2f2a"},{"offset":0.9643,"color":"#5a3f92"},{"offset":0.9821,"color":"#5a3f92"},{"offset":0.9821,"color":"#2a2f2a"},{"offset":1,"color":"#2a2f2a"}]}},
   "encoding": {"x": {"field": "g", "type": "nominal"}, "y": {"field": "q1", "type": "quantitative"}, "y2": {"field": "q3"}}},
  {"data": {"name": "box_b"}, "mark": {"type": "tick", "size": 29, "thickness": 1.5, "color": "#111", "opacity": 1},
   "encoding": {"x": {"field": "g", "type": "nominal"}, "y": {"field": "med", "type": "quantitative"}}},
  {"data": {"name": "ext_b"}, "mark": {"type": "tick", "size": 29, "thickness": 1.5, "color": "#111", "opacity": 1},
   "encoding": {"x": {"field": "g", "type": "nominal"}, "y": {"field": "v", "type": "quantitative"}}},
  {"data": {"name": "box_b"}, "mark": {"type": "tick", "size": 14, "thickness": 2, "color": "#111", "opacity": 1},
   "encoding": {"x": {"field": "g", "type": "nominal"}, "y": {"field": "lo", "type": "quantitative"}}},
  {"data": {"name": "box_b"}, "mark": {"type": "tick", "size": 14, "thickness": 2, "color": "#111", "opacity": 1},
   "encoding": {"x": {"field": "g", "type": "nominal"}, "y": {"field": "hi", "type": "quantitative"}}},
  {"data": {"name": "pts_b"}, "mark": {"type": "point", "filled": false, "stroke": "#333", "strokeWidth": 1, "size": 28, "opacity": 1},
   "encoding": {"x": {"field": "g", "type": "nominal"}, "y": {"field": "v", "type": "quantitative"}}},
  {"data": {"name": "ann_b"}, "mark": {"type": "text", "font": "Liberation Serif", "fontSize": 13, "fill": "#222", "baseline": "middle"},
   "encoding": {"x": {"field": "g", "type": "nominal"}, "y": {"field": "v", "type": "quantitative"}, "text": {"field": "t"}}}
]
}
]
},
{
"width": 277, "height": 190,
"layer": [
  {"data": {"name": "box_c"}, "mark": {"type": "rule", "stroke": "#111", "strokeWidth": 1.8},
   "encoding": {"x": {"field": "g", "type": "nominal", "scale": {"type": "point", "padding": 0.648, "domain": ["Control", "Model", "Low", "Middle", "High", "Diazepam"]}, "axis": {"title": "(c)", "labelAngle": -45, "titleX": 115, "titleY": 57, "titleAlign": "center", "titleBaseline": "middle"}},
     "y": {"field": "lo", "type": "quantitative", "scale": {"domain": [0, 15], "nice": false}, "axis": {"title": "CORT in serum (ng/ml)", "values": [0, 5, 10, 15], "titlePadding": 8, "labelPadding": 3}}, "y2": {"field": "hi"}}},
  {"data": {"name": "box_c"}, "mark": {"type": "bar", "width": 29, "stroke": "#111", "strokeWidth": 1.5},
   "encoding": {"x": {"field": "g", "type": "nominal"}, "y": {"field": "q1", "type": "quantitative"}, "y2": {"field": "q3"},
     "fill": {"field": "g", "type": "nominal", "scale": {"domain": ["Control", "Model", "Low", "Middle", "High", "Diazepam"], "range": ["#ffffff", "#4b5a69", "#c8504a", "#e2691d", "#5a3f92", "#5a5022"]}, "legend": null}}},
  {"data": {"name": "box_c"}, "transform": [{"filter": "datum.g === 'Low'"}],
   "mark": {"type": "bar", "width": 29, "stroke": "#111", "strokeWidth": 1.5, "fill": {"gradient": "linear", "x1": 0, "y1": 1, "x2": 2.387, "y2": -0.103, "stops": [{"offset":0,"color":"#c8504a"},{"offset":0.0417,"color":"#c8504a"},{"offset":0.0417,"color":"#1c3a2a"},{"offset":0.0833,"color":"#1c3a2a"},{"offset":0.0833,"color":"#c8504a"},{"offset":0.125,"color":"#c8504a"},{"offset":0.125,"color":"#1c3a2a"},{"offset":0.1667,"color":"#1c3a2a"},{"offset":0.1667,"color":"#c8504a"},{"offset":0.2083,"color":"#c8504a"},{"offset":0.2083,"color":"#1c3a2a"},{"offset":0.25,"color":"#1c3a2a"},{"offset":0.25,"color":"#c8504a"},{"offset":0.2917,"color":"#c8504a"},{"offset":0.2917,"color":"#1c3a2a"},{"offset":0.3333,"color":"#1c3a2a"},{"offset":0.3333,"color":"#c8504a"},{"offset":0.375,"color":"#c8504a"},{"offset":0.375,"color":"#1c3a2a"},{"offset":0.4167,"color":"#1c3a2a"},{"offset":0.4167,"color":"#c8504a"},{"offset":0.4583,"color":"#c8504a"},{"offset":0.4583,"color":"#1c3a2a"},{"offset":0.5,"color":"#1c3a2a"},{"offset":0.5,"color":"#c8504a"},{"offset":0.5417,"color":"#c8504a"},{"offset":0.5417,"color":"#1c3a2a"},{"offset":0.5833,"color":"#1c3a2a"},{"offset":0.5833,"color":"#c8504a"},{"offset":0.625,"color":"#c8504a"},{"offset":0.625,"color":"#1c3a2a"},{"offset":0.6667,"color":"#1c3a2a"},{"offset":0.6667,"color":"#c8504a"},{"offset":0.7083,"color":"#c8504a"},{"offset":0.7083,"color":"#1c3a2a"},{"offset":0.75,"color":"#1c3a2a"},{"offset":0.75,"color":"#c8504a"},{"offset":0.7917,"color":"#c8504a"},{"offset":0.7917,"color":"#1c3a2a"},{"offset":0.8333,"color":"#1c3a2a"},{"offset":0.8333,"color":"#c8504a"},{"offset":0.875,"color":"#c8504a"},{"offset":0.875,"color":"#1c3a2a"},{"offset":0.9167,"color":"#1c3a2a"},{"offset":0.9167,"color":"#c8504a"},{"offset":0.9583,"color":"#c8504a"},{"offset":0.9583,"color":"#1c3a2a"},{"offset":1,"color":"#1c3a2a"}]}},
   "encoding": {"x": {"field": "g", "type": "nominal"}, "y": {"field": "q1", "type": "quantitative"}, "y2": {"field": "q3"}}},
  {"data": {"name": "box_c"}, "transform": [{"filter": "datum.g === 'Middle'"}],
   "mark": {"type": "bar", "width": 29, "stroke": "#111", "strokeWidth": 1.5, "fill": {"gradient": "linear", "x1": 0, "y1": 1, "x2": 1.679, "y2": -0.43, "stops": [{"offset":0,"color":"#e2691d"},{"offset":0.0417,"color":"#e2691d"},{"offset":0.0417,"color":"#1c3a2a"},{"offset":0.0833,"color":"#1c3a2a"},{"offset":0.0833,"color":"#e2691d"},{"offset":0.125,"color":"#e2691d"},{"offset":0.125,"color":"#1c3a2a"},{"offset":0.1667,"color":"#1c3a2a"},{"offset":0.1667,"color":"#e2691d"},{"offset":0.2083,"color":"#e2691d"},{"offset":0.2083,"color":"#1c3a2a"},{"offset":0.25,"color":"#1c3a2a"},{"offset":0.25,"color":"#e2691d"},{"offset":0.2917,"color":"#e2691d"},{"offset":0.2917,"color":"#1c3a2a"},{"offset":0.3333,"color":"#1c3a2a"},{"offset":0.3333,"color":"#e2691d"},{"offset":0.375,"color":"#e2691d"},{"offset":0.375,"color":"#1c3a2a"},{"offset":0.4167,"color":"#1c3a2a"},{"offset":0.4167,"color":"#e2691d"},{"offset":0.4583,"color":"#e2691d"},{"offset":0.4583,"color":"#1c3a2a"},{"offset":0.5,"color":"#1c3a2a"},{"offset":0.5,"color":"#e2691d"},{"offset":0.5417,"color":"#e2691d"},{"offset":0.5417,"color":"#1c3a2a"},{"offset":0.5833,"color":"#1c3a2a"},{"offset":0.5833,"color":"#e2691d"},{"offset":0.625,"color":"#e2691d"},{"offset":0.625,"color":"#1c3a2a"},{"offset":0.6667,"color":"#1c3a2a"},{"offset":0.6667,"color":"#e2691d"},{"offset":0.7083,"color":"#e2691d"},{"offset":0.7083,"color":"#1c3a2a"},{"offset":0.75,"color":"#1c3a2a"},{"offset":0.75,"color":"#e2691d"},{"offset":0.7917,"color":"#e2691d"},{"offset":0.7917,"color":"#1c3a2a"},{"offset":0.8333,"color":"#1c3a2a"},{"offset":0.8333,"color":"#e2691d"},{"offset":0.875,"color":"#e2691d"},{"offset":0.875,"color":"#1c3a2a"},{"offset":0.9167,"color":"#1c3a2a"},{"offset":0.9167,"color":"#e2691d"},{"offset":0.9583,"color":"#e2691d"},{"offset":0.9583,"color":"#1c3a2a"},{"offset":1,"color":"#1c3a2a"}]}},
   "encoding": {"x": {"field": "g", "type": "nominal"}, "y": {"field": "q1", "type": "quantitative"}, "y2": {"field": "q3"}}},
  {"data": {"name": "box_c"}, "transform": [{"filter": "datum.g === 'High'"}],
   "mark": {"type": "bar", "width": 29, "stroke": "#111", "strokeWidth": 1.5, "fill": {"gradient": "linear", "x1": 0, "y1": 1, "x2": 2.201, "y2": -0.237, "stops": [{"offset":0,"color":"#5a3f92"},{"offset":0.0417,"color":"#5a3f92"},{"offset":0.0417,"color":"#1c3a2a"},{"offset":0.0833,"color":"#1c3a2a"},{"offset":0.0833,"color":"#5a3f92"},{"offset":0.125,"color":"#5a3f92"},{"offset":0.125,"color":"#1c3a2a"},{"offset":0.1667,"color":"#1c3a2a"},{"offset":0.1667,"color":"#5a3f92"},{"offset":0.2083,"color":"#5a3f92"},{"offset":0.2083,"color":"#1c3a2a"},{"offset":0.25,"color":"#1c3a2a"},{"offset":0.25,"color":"#5a3f92"},{"offset":0.2917,"color":"#5a3f92"},{"offset":0.2917,"color":"#1c3a2a"},{"offset":0.3333,"color":"#1c3a2a"},{"offset":0.3333,"color":"#5a3f92"},{"offset":0.375,"color":"#5a3f92"},{"offset":0.375,"color":"#1c3a2a"},{"offset":0.4167,"color":"#1c3a2a"},{"offset":0.4167,"color":"#5a3f92"},{"offset":0.4583,"color":"#5a3f92"},{"offset":0.4583,"color":"#1c3a2a"},{"offset":0.5,"color":"#1c3a2a"},{"offset":0.5,"color":"#5a3f92"},{"offset":0.5417,"color":"#5a3f92"},{"offset":0.5417,"color":"#1c3a2a"},{"offset":0.5833,"color":"#1c3a2a"},{"offset":0.5833,"color":"#5a3f92"},{"offset":0.625,"color":"#5a3f92"},{"offset":0.625,"color":"#1c3a2a"},{"offset":0.6667,"color":"#1c3a2a"},{"offset":0.6667,"color":"#5a3f92"},{"offset":0.7083,"color":"#5a3f92"},{"offset":0.7083,"color":"#1c3a2a"},{"offset":0.75,"color":"#1c3a2a"},{"offset":0.75,"color":"#5a3f92"},{"offset":0.7917,"color":"#5a3f92"},{"offset":0.7917,"color":"#1c3a2a"},{"offset":0.8333,"color":"#1c3a2a"},{"offset":0.8333,"color":"#5a3f92"},{"offset":0.875,"color":"#5a3f92"},{"offset":0.875,"color":"#1c3a2a"},{"offset":0.9167,"color":"#1c3a2a"},{"offset":0.9167,"color":"#5a3f92"},{"offset":0.9583,"color":"#5a3f92"},{"offset":0.9583,"color":"#1c3a2a"},{"offset":1,"color":"#1c3a2a"}]}},
   "encoding": {"x": {"field": "g", "type": "nominal"}, "y": {"field": "q1", "type": "quantitative"}, "y2": {"field": "q3"}}},
  {"data": {"name": "box_c"}, "mark": {"type": "tick", "size": 29, "thickness": 1.5, "color": "#111", "opacity": 1},
   "encoding": {"x": {"field": "g", "type": "nominal"}, "y": {"field": "med", "type": "quantitative"}}},
  {"data": {"name": "box_c"}, "mark": {"type": "tick", "size": 14, "thickness": 2, "color": "#111", "opacity": 1},
   "encoding": {"x": {"field": "g", "type": "nominal"}, "y": {"field": "lo", "type": "quantitative"}}},
  {"data": {"name": "box_c"}, "mark": {"type": "tick", "size": 14, "thickness": 2, "color": "#111", "opacity": 1},
   "encoding": {"x": {"field": "g", "type": "nominal"}, "y": {"field": "hi", "type": "quantitative"}}},
  {"data": {"name": "pts_c"}, "mark": {"type": "point", "filled": false, "stroke": "#333", "strokeWidth": 1, "size": 28, "opacity": 1},
   "encoding": {"x": {"field": "g", "type": "nominal"}, "y": {"field": "v", "type": "quantitative"}}},
  {"data": {"name": "ann_c"}, "mark": {"type": "text", "font": "Liberation Serif", "fontSize": 13, "fill": "#222", "baseline": "middle"},
   "encoding": {"x": {"field": "g", "type": "nominal"}, "y": {"field": "v", "type": "quantitative"}, "text": {"field": "t"}}}
]
}
]
}
